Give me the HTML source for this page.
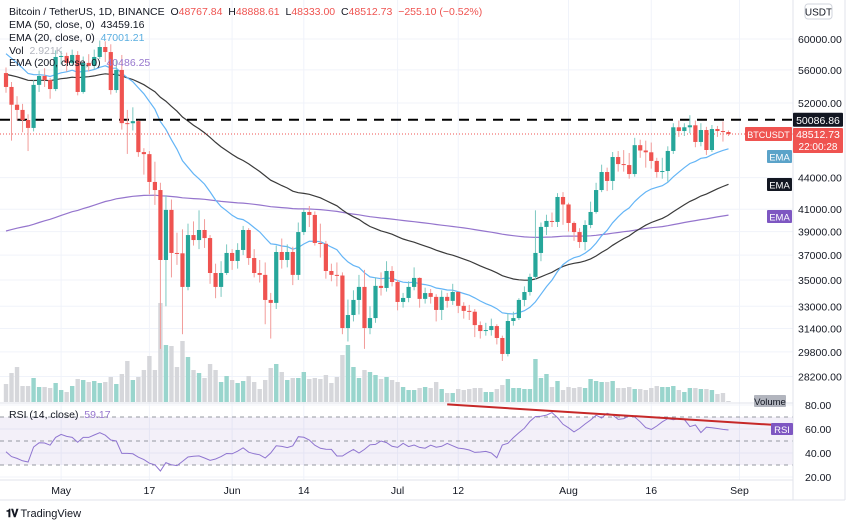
<!DOCTYPE html>
<html><head><meta charset="utf-8">
<style>
body{margin:0;background:#fff;width:850px;height:523px;overflow:hidden;font-family:"Liberation Sans",sans-serif;}
#wrap{position:relative;width:850px;height:523px;}
svg{position:absolute;left:0;top:0;}
.lg{position:absolute;left:9px;font-size:10.5px;color:#131722;white-space:nowrap;}
</style></head><body>
<div id="wrap">
<svg id="chart" width="850" height="523"></svg>
<div class="lg" style="top:6px">Bitcoin / TetherUS, 1D, BINANCE&nbsp; <span style="color:#131722">O</span><span style="color:#ef5350">48767.84</span>&nbsp; H<span style="color:#ef5350">48888.61</span>&nbsp; L<span style="color:#ef5350">48333.00</span>&nbsp; C<span style="color:#ef5350">48512.73</span>&nbsp; <span style="color:#ef5350">−255.10 (−0.52%)</span></div>
<div class="lg" style="top:19px">EMA (50, close, 0)&nbsp; 43459.16</div>
<div class="lg" style="top:32px">EMA (20, close, 0)&nbsp; <span style="color:#5aaee0">47001.21</span></div>
<div class="lg" style="top:45px">Vol&nbsp; <span style="color:#b2b5be">2.921K</span></div>
<div class="lg" style="top:57px">EMA (200, close, 0)&nbsp; <span style="color:#9575cd">40486.25</span></div>
<div class="lg" style="top:409px;color:#131722">RSI (14, close)&nbsp; <span style="color:#9575cd">59.17</span></div>
<div style="position:absolute;left:6px;top:508px;font-size:11px;color:#131722;font-weight:bold"><span style="font-size:11px;letter-spacing:-1px">𝟏𝐕</span> <span style="font-weight:normal">TradingView</span></div>
</div>
<script>
const open0 = 55600;
const closes = [53900,51800,51200,50060,49180,54150,55240,54740,53650,57640,57770,56880,57900,53300,56880,56500,57640,58940,58280,53530,55990,49710,49700,49930,46590,46380,43580,42800,36600,40940,37180,37150,34460,38700,38270,39140,38440,35550,34460,35550,37180,36520,37430,39140,36760,35550,35400,33470,33250,37260,36600,37260,35400,38960,40750,40480,38020,37950,35710,35400,35350,31430,32360,33470,34460,31430,32140,34540,34380,35710,34840,33320,33620,34460,35160,33550,33990,33700,32730,33700,33400,34070,33030,32660,32600,31640,31220,31290,31570,30740,29660,31930,32140,33470,34070,35240,37180,39410,39940,39850,42140,41440,39760,38960,38100,39580,40750,42800,44560,43680,46080,45360,45260,44360,47320,46760,46570,45680,44560,44660,46710,49250,48840,49250,49470,47660,48950,46810,49060,48840,48730,48510];
const highs = [56300,54500,52800,51900,50700,54700,55900,56200,55000,58500,58400,58200,58600,58400,57700,58000,58600,59800,59700,59300,57200,57900,51200,51500,50000,47000,46700,45600,43500,42300,41900,38900,39200,39700,39900,40900,40100,38700,36300,36500,37900,37500,38000,39500,39300,37500,36600,36400,34000,37800,38400,37900,37700,39800,41000,41300,40800,39700,38200,36300,36400,35600,33500,34200,35400,35800,33000,35200,35600,36500,36100,35000,34000,34900,36000,35200,34400,34300,33900,34200,34000,34700,34100,33300,33100,32800,31900,31800,32100,31700,30900,32500,32600,33600,34500,35500,40900,39800,40500,40700,42500,42600,41600,39900,39300,40000,41700,43500,45300,45000,46600,46700,46800,46500,48100,47900,47800,47600,46000,46000,47200,49700,50000,49700,50600,50000,49700,49300,49500,49400,49900,48900];
const lows = [53200,47800,50000,48700,46700,48800,53300,53900,52500,53400,56700,55800,56500,52900,53100,55800,56000,57400,57000,53000,53200,49000,46400,48900,46100,44300,42400,41400,30000,33000,35200,36200,31000,34200,37800,37500,37600,34700,33600,33700,35400,35800,35900,37000,36200,35200,34800,31700,30700,32800,35900,36000,34600,35000,38700,39400,37800,36800,35100,34900,34500,31000,30500,31900,32400,30000,31000,31800,33800,34100,34500,32700,32900,33300,34200,32900,33200,33200,31900,32000,32900,33100,32500,32100,32000,30800,30700,30900,30900,30300,29200,29500,31600,32000,33000,33800,35000,36500,38700,39400,39400,39600,39000,38200,37600,37400,39300,40600,42600,42700,42800,44600,44600,43900,44100,46000,45000,44900,44000,43900,43600,46400,48200,48300,48600,47100,47200,46300,46600,48200,47700,48300];
const volumes = [18,29,35,16,16,24,15,15,14,19,12,10,16,23,22,20,21,19,20,25,18,28,41,22,25,32,46,32,99,57,56,35,61,45,32,29,24,38,32,20,26,22,19,21,26,20,13,22,34,38,30,22,24,24,30,23,24,23,27,19,25,47,57,35,24,32,30,27,23,25,22,20,15,12,12,14,15,14,20,13,9,9,13,12,13,14,14,10,10,13,17,23,14,14,13,13,43,24,28,15,21,12,15,14,15,14,23,21,20,20,21,14,14,15,13,13,12,14,16,15,15,16,12,10,14,14,13,13,12,8,9,1];
const rsi = [41,37,35.5,33.5,32.5,45,48.5,48.3,46.5,53,55.5,53.8,53,49,53,53,55,56.9,54.8,50.8,50,39.7,39.7,39.3,36.5,34.5,31.5,30.2,25,32,30.2,29.5,33,36.7,37.3,37.6,35.8,33.9,35,37,39.6,39.3,41.5,44.3,40.7,39.3,38.5,35.8,40,46,45.5,44.5,46,53.6,53.1,50.8,46.5,43.9,43.2,43,37.5,37.5,40.3,43,40,43,46.8,47.2,50,48.7,45.6,44.7,48.1,45.3,46.7,44.7,44,46.5,44.8,45.6,48,46,44.1,43.5,42.5,40.5,40.8,41.3,40,36,46.7,48.1,52.8,56.8,60.7,66.3,70.3,70.7,71.6,73.7,69.5,63.9,61,57.6,60.5,64.2,67.5,71.5,69.2,73.1,71.7,68,68.6,71,70,66,61.2,59.7,62.5,66,68.7,67.7,68.7,68,62,63.3,57,61.5,61.1,60.4,59.7,59.2];
const priceTicks = [60000,56000,52000,44000,41000,39000,37000,35000,33000,31400,29800,28200];
const rsiTicks = [80,60,40,20];
const timeLabels = ["May","17","Jun","14","Jul","12","Aug","16","Sep"];
const timeLabelIdx = [10,26,41,54,71,82,102,117,133];
const resistance = 50086.86;
const lastPrice = 48512.73;
const emaSeeds = {e20:58500,e50:55500,e200:38900};
const trendRsi = [80.5,63.5];
const trendIdx = [80,139];

const NS="http://www.w3.org/2000/svg";
const svg=document.getElementById('chart');
function mk(tag,attrs,parent){const e=document.createElementNS(NS,tag);for(const k in attrs)e.setAttribute(k,attrs[k]);(parent||svg).appendChild(e);return e;}
const xOf=i=>6+5.515*i;
const yP=p=>103+447*Math.log(52000/p);
const yR=v=>429-(v-60)*1.2;
const yV=v=>402-v*1.0;
const AX=793;

const grid=mk('g',{});


priceTicks.forEach(t=>{const y=yP(t);if(y>5&&y<400)mk('line',{x1:0,x2:AX,y1:y,y2:y,stroke:'#f0f3fa','stroke-width':1},grid);});
timeLabelIdx.forEach(i=>{mk('line',{x1:xOf(i),x2:xOf(i),y1:0,y2:480,stroke:'#f0f3fa','stroke-width':1},grid);});
rsiTicks.forEach(t=>{mk('line',{x1:0,x2:AX,y1:yR(t),y2:yR(t),stroke:'#f0f3fa'},grid);});

const vg=mk('g',{});


volumes.forEach((v,i)=>{const o=i?closes[i-1]:open0;const up=closes[i]>=o;
 const r=mk('rect',{x:xOf(i)-2.2,y:yV(v),width:4.4,height:v,fill:up?'#99d5cd':'#d6d7db'},vg);
 
 });

function ema(period,seed){const a=2/(period+1);let e=seed;return closes.map(c=>(e=e+a*(c-e)));}
function line(vals,color,name,w){const d=vals.map((v,i)=>(i?'L':'M')+xOf(i).toFixed(1)+','+yP(v).toFixed(1)).join('');
 const p=mk('path',{d:d,fill:'none',stroke:color,'stroke-width':w||1.2});
 
 }
line(ema(200,emaSeeds.e200),'#9575cd','ema200-line');
line(ema(50,emaSeeds.e50),'#3a3a3a','ema50-line');
line(ema(20,emaSeeds.e20),'#64b5f6','ema20-line');

const rl=mk('line',{x1:0,x2:AX,y1:yP(resistance),y2:yP(resistance),stroke:'#000','stroke-width':2,'stroke-dasharray':'10,7'});


const pl=mk('line',{x1:0,x2:AX,y1:yP(lastPrice),y2:yP(lastPrice),stroke:'#ef5350','stroke-width':1,'stroke-dasharray':'1,2'});



const cg=mk('g',{});


closes.forEach((c,i)=>{const o=i?closes[i-1]:open0;const up=c>=o;const col=up?'#26a69a':'#ef5350';const x=xOf(i);
 const w=mk('line',{x1:x,x2:x,y1:yP(highs[i]),y2:yP(lows[i]),stroke:up?'#7cc8c0':'#f29c9a','stroke-width':1},cg);
 
 
 const t=Math.min(yP(o),yP(c)),h=Math.max(1,Math.abs(yP(o)-yP(c)));
 const b=mk('rect',{x:x-2.1,y:t,width:4.2,height:h,fill:col},cg);
 
 });

mk('line',{x1:0,x2:AX,y1:403,y2:403,stroke:'#e0e3eb','stroke-width':1});
mk('rect',{x:0,y:yR(70),width:AX,height:yR(30)-yR(70),fill:'#7e57c2','fill-opacity':0.09});
[70,50,30].forEach(v=>{const l=mk('line',{x1:0,x2:AX,y1:yR(v),y2:yR(v),stroke:'#9598a1','stroke-dasharray':'4,4','stroke-width':1});
 
 });
const rd=rsi.map((v,i)=>(i?'L':'M')+xOf(i).toFixed(1)+','+yR(v).toFixed(1)).join('');
const rp=mk('path',{d:rd,fill:'none',stroke:'#8f75d0','stroke-width':1});


const tl=mk('line',{x1:xOf(trendIdx[0]),x2:xOf(trendIdx[1]),y1:yR(trendRsi[0]),y2:yR(trendRsi[1]),stroke:'#c62828','stroke-width':2});



mk('line',{x1:AX,x2:AX,y1:0,y2:500,stroke:'#e0e3eb'});
mk('line',{x1:0,x2:AX,y1:480,y2:480,stroke:'#e0e3eb'});
mk('line',{x1:0,x2:845,y1:500,y2:500,stroke:'#e0e3eb'});
mk('line',{x1:845,x2:845,y1:0,y2:500,stroke:'#e0e3eb'});
priceTicks.forEach(t=>{const y=yP(t);if(y>-8&&y<400){const tx=mk('text',{x:798,y:y+4,'font-size':10.5,fill:'#131722','font-family':'Liberation Sans'});tx.textContent=t.toFixed(2);
 
 }});
rsiTicks.forEach(t=>{const tx=mk('text',{x:805,y:yR(t)+4,'font-size':10.5,fill:'#131722'});tx.textContent=t.toFixed(2);
 
 });
timeLabels.forEach((s,k)=>{const tx=mk('text',{x:xOf(timeLabelIdx[k]),y:494,'font-size':10.5,fill:'#131722','text-anchor':'middle'});tx.textContent=s;
 
 });

function tag(x,y,w,h,fill,txt,name,color,size,ty){const g=mk('g',{});
 
 
 mk('rect',{x:x,y:y,width:w,height:h,fill:fill,rx:1},g);
 const t=mk('text',{x:x+w/2,y:ty!==undefined?ty:y+h/2+4,'text-anchor':'middle','font-size':size||10.5,fill:color||'#fff'},g);t.textContent=txt;return g;}
tag(805,4,27,15,'#fff','USDT','currency-label','#131722',10);
mk('rect',{x:805,y:4,width:27,height:15,fill:'none',stroke:'#d1d4dc',rx:3});
tag(793,yP(resistance)-7,50,14,'#131722',resistance.toFixed(2),'resistance-price-tag');
tag(745,yP(lastPrice)-7,47,14,'#ef5350','BTCUSDT','symbol-tag',null,9);
const lp=tag(793,yP(lastPrice)-6,50,25,'#ef5350',lastPrice.toFixed(2),'last-price-tag',null,10.5,yP(lastPrice)+4);
const cd=mk('text',{x:818,y:yP(lastPrice)+16,'text-anchor':'middle','font-size':10,fill:'#fff'},lp);cd.textContent='22:00:28';
tag(767,150,25,13,'#5ba3c9','EMA','ema20-tag',null,9.5);
tag(767,178,25,13,'#131722','EMA','ema50-tag',null,9.5);
tag(767,210,25,13,'#7e57c2','EMA','ema200-tag',null,9.5);
tag(754,395,32,12,'#b2b5be','Volume','volume-tag','#131722',9.5);
tag(771,423,22,12,'#7e57c2','RSI','rsi-tag',null,9.5);
</script>
</body></html>
